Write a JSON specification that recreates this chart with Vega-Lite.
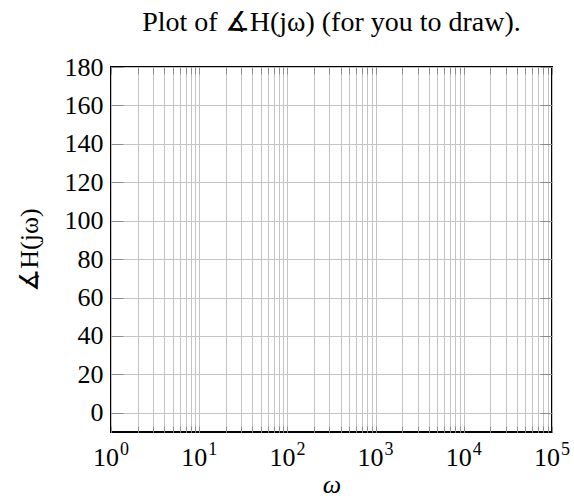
{
  "$schema": "https://vega.github.io/schema/vega-lite/v6.json",
  "autosize": "none",
  "width": 441,
  "height": 365,
  "padding": {"left": 111, "top": 67, "right": 22, "bottom": 68},
  "config": {
    "view": {"stroke": "black", "strokeWidth": 2},
    "font": "Liberation Serif",
    "axis": {"labelFont": "Liberation Serif", "titleFont": "Liberation Serif", "labelFontSize": 26, "titleFontSize": 26, "titleFontWeight": "normal", "labelColor": "black", "titleColor": "black", "domain": false, "gridColor": "#c4c4c4", "gridWidth": 1, "gridOpacity": 1, "tickColor": "#8c8c8c", "tickWidth": 1}
  },
  "title": {"text": "Plot of ∡H(jω) (for you to draw).", "font": "Liberation Serif", "fontSize": 28, "fontWeight": "normal", "color": "black", "anchor": "middle", "offset": 17},
  "layer": [
    {
      "data": {"values": [{"omega": 1, "phase": -10}, {"omega": 100000, "phase": 180}]},
      "mark": {"type": "point", "opacity": 0},
      "encoding": {
        "x": {"field": "omega", "type": "quantitative", "scale": {"type": "log", "domain": [1, 100000], "nice": false},
          "axis": {"orient": "bottom", "title": "ω", "titleFontStyle": "italic", "titleFontSize": 26, "titlePadding": 39,
            "values": [1,2,3,4,5,6,7,8,9,10,20,30,40,50,60,70,80,90,100,200,300,400,500,600,700,800,900,1000,2000,3000,4000,5000,6000,7000,8000,9000,10000,20000,30000,40000,50000,60000,70000,80000,90000,100000],
            "labels": false,
            "tickSize": -6}},
        "y": {"field": "phase", "type": "quantitative", "scale": {"domain": [-10, 180], "nice": false, "zero": false},
          "axis": {"orient": "left", "title": "∡H(jω)", "titlePadding": 22,
            "values": [0,20,40,60,80,100,120,140,160,180],
            "tickSize": -12, "labelPadding": 20, "labelFlush": false, "labelOverlap": false}}
      }
    },
    {
      "data": {"values": [{"omega": 1, "phase": -10}, {"omega": 100000, "phase": 180}]},
      "mark": {"type": "point", "opacity": 0},
      "encoding": {
        "x": {"field": "omega", "type": "quantitative",
          "axis": {"orient": "top", "title": null, "labels": false, "grid": false,
            "values": [1,2,3,4,5,6,7,8,9,10,20,30,40,50,60,70,80,90,100,200,300,400,500,600,700,800,900,1000,2000,3000,4000,5000,6000,7000,8000,9000,10000,20000,30000,40000,50000,60000,70000,80000,90000,100000],
            "tickSize": -7}},
        "y": {"field": "phase", "type": "quantitative",
          "axis": {"orient": "right", "title": null, "labels": false, "grid": false,
            "values": [0,20,40,60,80,100,120,140,160,180],
            "tickSize": -12}}
      }
    },
    {
      "data": {"name": "decades", "values": [{"omega": 1, "base": "10", "exp": "0"}, {"omega": 10, "base": "10", "exp": "1"}, {"omega": 100, "base": "10", "exp": "2"}, {"omega": 1000, "base": "10", "exp": "3"}, {"omega": 10000, "base": "10", "exp": "4"}, {"omega": 100000, "base": "10", "exp": "5"}]},
      "mark": {"type": "text", "font": "Liberation Serif", "fontSize": 26, "align": "right", "baseline": "alphabetic", "dx": 8, "dy": 34, "color": "black", "clip": false},
      "encoding": {
        "x": {"field": "omega", "type": "quantitative", "axis": null},
        "y": {"datum": -10, "type": "quantitative", "axis": null},
        "text": {"field": "base"}
      }
    },
    {
      "data": {"name": "decades"},
      "mark": {"type": "text", "font": "Liberation Serif", "fontSize": 18, "align": "left", "baseline": "alphabetic", "dx": 9, "dy": 23, "color": "black", "clip": false},
      "encoding": {
        "x": {"field": "omega", "type": "quantitative", "axis": null},
        "y": {"datum": -10, "type": "quantitative", "axis": null},
        "text": {"field": "exp"}
      }
    }
  ],
  "resolve": {"axis": {"x": "independent", "y": "independent"}}
}
